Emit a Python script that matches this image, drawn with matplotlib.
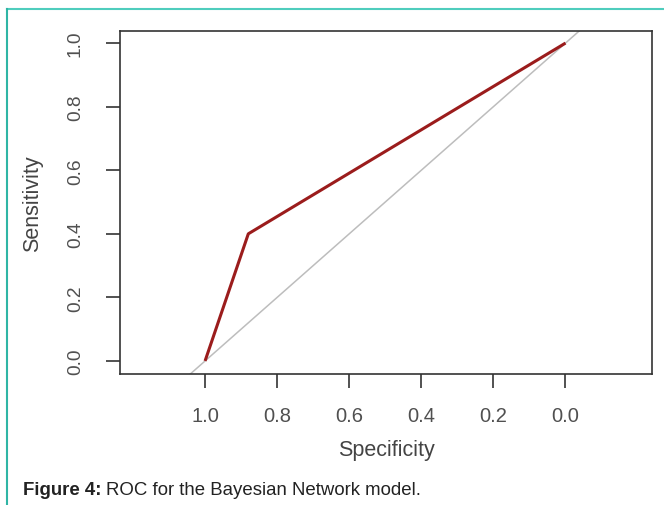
import matplotlib
matplotlib.use("Agg")
import matplotlib.pyplot as plt
from matplotlib.lines import Line2D

plt.rcParams['font.family'] = ['Liberation Sans', 'DejaVu Sans']

specificity = [1.0, 0.88, 0.0]
sensitivity = [0.0, 0.40, 1.0]
tick_vals = [1.0, 0.8, 0.6, 0.4, 0.2, 0.0]
tick_labels = ["1.0", "0.8", "0.6", "0.4", "0.2", "0.0"]

fig = plt.figure(figsize=(6.64, 5.06), dpi=100)
ax = fig.add_axes([120/664, 131/506, 532/664, 343/506])

ax.plot([1.3, -0.3], [-0.3, 1.3], color="#bdbdbd", lw=1.1, zorder=1)
ax.plot(specificity, sensitivity, color="#9b1c1c", lw=2.2, zorder=2, solid_capstyle="butt")

ax.set_xlim(1.236, -0.24)
ax.set_ylim(-0.041, 1.038)
ax.set_xticks(tick_vals)
ax.set_xticklabels(tick_labels)
ax.set_yticks(tick_vals)
ax.set_yticklabels(tick_labels, rotation=90, va="center")
ax.tick_params(axis="both", colors="#333333", labelcolor="#505050",
               length=10, width=1.2)
ax.tick_params(axis="x", pad=13, labelsize=14.5)
ax.tick_params(axis="y", pad=16, labelsize=13.8)
for s in ax.spines.values():
    s.set_color("#333333")
    s.set_linewidth(1.2)

ax.set_xlabel("Specificity", fontsize=15.5, color="#444444", labelpad=10)
ax.set_ylabel("Sensitivity", fontsize=15.5, color="#444444", labelpad=17)

teal = "#4fcdbd"
fig.add_artist(Line2D([7/664, 1.0], [1 - 10/506, 1 - 10/506], color=teal, lw=1.5,
                      transform=fig.transFigure))
fig.add_artist(Line2D([7/664, 7/664], [0.0, 1 - 10/506], color="#2fb5a5", lw=1.5,
                      transform=fig.transFigure))

t = fig.text(23/664, 1 - 491/506, "Figure 4:", fontsize=13.4, fontweight="bold",
             color="#222222", va="center", ha="left")
fig.canvas.draw()
bb = t.get_window_extent()
fig.text((bb.x1 + 4)/664, 1 - 491/506, "ROC for the Bayesian Network model.", fontsize=13.4,
         color="#222222", va="center", ha="left")

fig.savefig("out.png", dpi=100)
